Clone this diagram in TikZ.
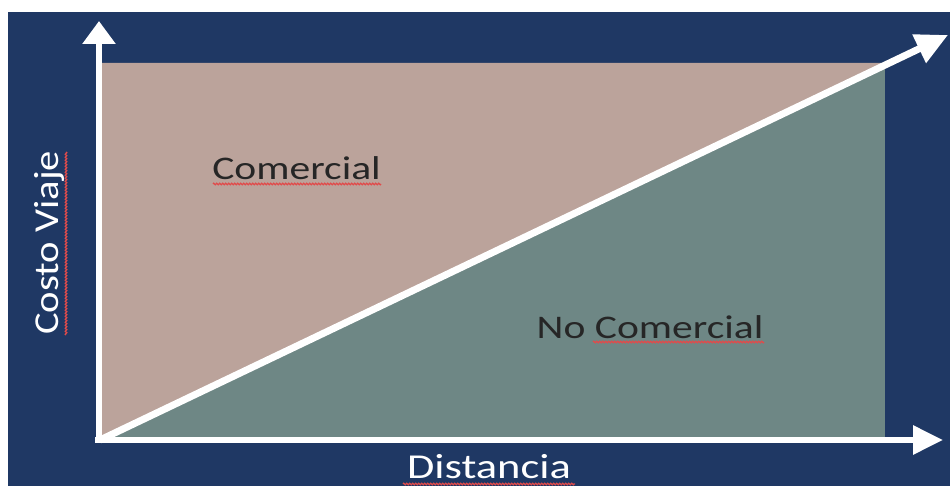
\documentclass[tikz,border=0pt]{standalone}
\usepackage{graphicx}
\usepackage{fontspec}
\setmainfont{Carlito}
\usetikzlibrary{arrows.meta,decorations.pathmorphing}
\definecolor{navy}{RGB}{31,56,100}
\definecolor{rosefill}{RGB}{187,163,155}
\definecolor{tealfill}{RGB}{110,135,133}
\definecolor{darktext}{RGB}{38,38,38}
\definecolor{spellred}{RGB}{225,75,75}
\tikzset{
  axisline/.style={draw=white, line width=6pt},
  regionlabel/.style={inner sep=0pt, anchor=base, text=darktext, font=\fontsize{33}{33}\selectfont},
  axislabel/.style={inner sep=0pt, anchor=base, text=white, font=\fontsize{35}{35}\selectfont},
  squiggle/.style={draw=spellred, line width=1.3pt, decorate,
    decoration={zigzag, amplitude=0.8pt, segment length=3pt}}
}
\begin{document}
\begin{tikzpicture}[x=1pt,y=-1pt]
\useasboundingbox (0,0) rectangle (950,486);
% background
\fill[navy] (8,12) rectangle (950,486);
% regions
\fill[tealfill] (100,63) rectangle (885,440);
\fill[rosefill] (100,440) -- (100,63) -- (885,63) -- (885,65.6) -- cycle;
% coordinates
\coordinate (O) at (99,440);
\coordinate (Ytip) at (99,21);
\coordinate (Xtip) at (943,440);
\coordinate (Dtip) at (948,35);
\coordinate (Xstart) at (95,440);
\coordinate (Dstart) at (100,440);
% axes
\draw[axisline, -{Triangle[width=32pt,length=23pt]}] (O) -- (Ytip);
\draw[axisline, -{Triangle[width=28pt,length=30pt]}] (Xstart) -- (Xtip);
\draw[draw=white, line width=7pt, -{Triangle[width=30pt,length=32pt]}] (Dstart) -- (Dtip);
% labels
\node[regionlabel] (com) at (296.5,180) {\scalebox{1.26}[1]{Comercial}};
\node[regionlabel] (nocom) at (650,338) {\scalebox{1.26}[1]{No Comercial}};
\node[axislabel] (dist) at (489,478) {\scalebox{1.27}[1]{Distancia}};
\node[axislabel, rotate=90] (costo) at (58,243) {\scalebox{1.16}[1]{Costo Viaje}};
% spell-check underlines
\coordinate (u1a) at (213,184); \coordinate (u1b) at (381,184);
\coordinate (u2a) at (593,342); \coordinate (u2b) at (764,342);
\coordinate (u3a) at (403,484); \coordinate (u3b) at (575,484);
\coordinate (u4a) at (66,335); \coordinate (u4b) at (66,152);
\draw[squiggle] (u1a) -- (u1b);
\draw[squiggle] (u2a) -- (u2b);
\draw[squiggle] (u3a) -- (u3b);
\draw[squiggle] (u4a) -- (u4b);
\end{tikzpicture}
\end{document}
